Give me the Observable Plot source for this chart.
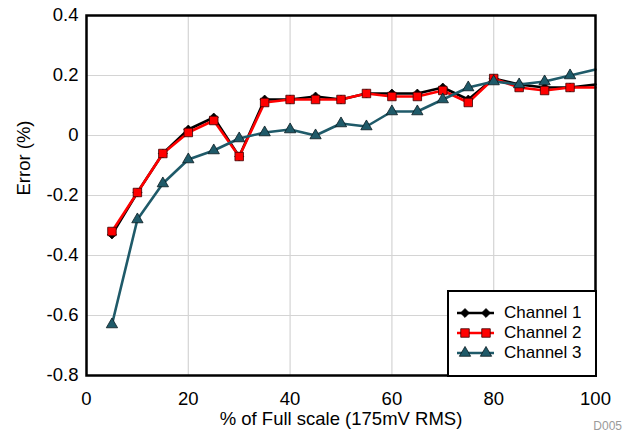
<!DOCTYPE html>
<html>
<head>
<meta charset="utf-8">
<script src="https://cdn.jsdelivr.net/npm/d3@7"></script>
<script src="https://cdn.jsdelivr.net/npm/@observablehq/plot@0.6"></script>
<style>
  html, body { margin: 0; padding: 0; background: #fff; }
  body { font-family: "Liberation Sans", Arial, sans-serif; }
  #wrap { position: relative; width: 630px; height: 436px; }
  #legend { position: absolute; left: 447px; top: 290px; width: 146px; height: 83px;
    border: 2.5px solid #000; background: #fff; }
  .item { position: absolute; left: 8px; height: 20px; font-size: 17px; line-height: 20px; color: #000; }
  .item svg { position: absolute; left: 0; top: 0; }
  .item span { position: absolute; left: 47px; white-space: nowrap; }
  #code { position: absolute; right: 8px; top: 419px; font-size: 12px; color: #9a9a9a; }
</style>
</head>
<body>
<div id="wrap">
  <div id="chart"></div>
  <div id="legend"></div>
  <div id="code">D005</div>
</div>
<script>
const xValues = [5, 10, 15, 20, 25, 30, 35, 40, 45, 50, 55, 60, 65, 70, 75, 80, 85, 90, 95, 100];
const channel1 = [-0.33, -0.19, -0.06, 0.02, 0.06, -0.07, 0.12, 0.12, 0.13, 0.12, 0.14, 0.14, 0.14, 0.16, 0.12, 0.19, 0.17, 0.16, 0.16, 0.17];
const channel2 = [-0.32, -0.19, -0.06, 0.01, 0.05, -0.07, 0.11, 0.12, 0.12, 0.12, 0.14, 0.13, 0.13, 0.15, 0.11, 0.19, 0.16, 0.15, 0.16, 0.16];
const channel3 = [-0.63, -0.28, -0.16, -0.08, -0.05, -0.01, 0.01, 0.02, 0.00, 0.04, 0.03, 0.08, 0.08, 0.12, 0.16, 0.18, 0.17, 0.18, 0.20, 0.22];
const seriesNames = ["Channel 1", "Channel 2", "Channel 3"];
const xTicks = [0, 20, 40, 60, 80, 100];
const yTicks = [-0.8, -0.6, -0.4, -0.2, 0, 0.2, 0.4];
const xLabel = "% of Full scale (175mV RMS)";
const yLabel = "Error (%)";

const styles = [
  {color: "#000000", fill: "#000000", stroke: "#000000", symbol: "diamond2", r: 4},
  {color: "#ff0000", fill: "#ff0000", stroke: "#3a0000", symbol: "square", r: 4.8},
  {color: "#1f5a69", fill: "#1f5a69", stroke: "#0a1a20", symbol: "triangle", r: 4.2}
];
const allSeries = [channel1, channel2, channel3];
const data = allSeries.map((vals, i) => xValues.map((x, j) => ({x, y: vals[j], series: seriesNames[i]})));

const marks = [
  Plot.gridX(xTicks, {stroke: "#d4d4d4", strokeOpacity: 1, strokeWidth: 1.2}),
  Plot.gridY(yTicks, {stroke: "#d4d4d4", strokeOpacity: 1, strokeWidth: 1.2}),
];
data.forEach((d, i) => {
  const s = styles[i];
  marks.push(Plot.line(d, {x: "x", y: "y", stroke: s.color, strokeWidth: 2.6}));
  marks.push(Plot.dot(d.filter(p => p.x < 100), {x: "x", y: "y", symbol: () => s.symbol, fill: s.fill, stroke: s.stroke, strokeWidth: 0.8, r: s.r}));
});
marks.push(
  Plot.axisX(xTicks, {tickSize: 0, tickPadding: 16, fontSize: 18.5, label: null, fill: "#000"}),
  Plot.axisY(yTicks, {tickSize: 0, tickPadding: 8, fontSize: 18.5, label: null, fill: "#000",
    tickFormat: d => d === 0 ? "0" : d.toFixed(1)}),
  Plot.text([xLabel], {frameAnchor: "bottom", lineAnchor: "middle", dy: 44, fontSize: 18.5, fill: "#000"}),
  Plot.text([yLabel], {frameAnchor: "left", dx: -62, rotate: -90, fontSize: 18.5, fill: "#000"}),
  Plot.frame({stroke: "#000", strokeWidth: 2.5})
);

const chart = Plot.plot({
  width: 630,
  height: 436,
  marginTop: 15,
  marginRight: 35,
  marginBottom: 61,
  marginLeft: 86,
  style: {fontFamily: "'Liberation Sans', Arial, sans-serif", fontSize: "18.5px", background: "#fff", color: "#000"},
  x: {domain: [0, 100]},
  y: {domain: [-0.8, 0.4]},
  marks
});
document.getElementById("chart").appendChild(chart);

// Legend
const legend = document.getElementById("legend");
const symbolPath = {
  diamond2: d3.symbol(d3.symbolDiamond2, Math.PI * 16)(),
  square: d3.symbol(d3.symbolSquare, Math.PI * 4.8 * 4.8)(),
  triangle: d3.symbol(d3.symbolTriangle, Math.PI * 4.2 * 4.2)()
};
seriesNames.forEach((name, i) => {
  const s = styles[i];
  const div = document.createElement("div");
  div.className = "item";
  div.style.top = (11 + i * 20) + "px";
  div.innerHTML = `<svg width="40" height="20">
      <line x1="0" x2="37" y1="10" y2="10" stroke="${s.color}" stroke-width="2.6"/>
      <path d="${symbolPath[s.symbol]}" transform="translate(8,10)" fill="${s.fill}" stroke="${s.stroke}" stroke-width="0.8"/>
      <path d="${symbolPath[s.symbol]}" transform="translate(29,10)" fill="${s.fill}" stroke="${s.stroke}" stroke-width="0.8"/>
    </svg><span>${name}</span>`;
  legend.appendChild(div);
});
</script>
</body>
</html>
